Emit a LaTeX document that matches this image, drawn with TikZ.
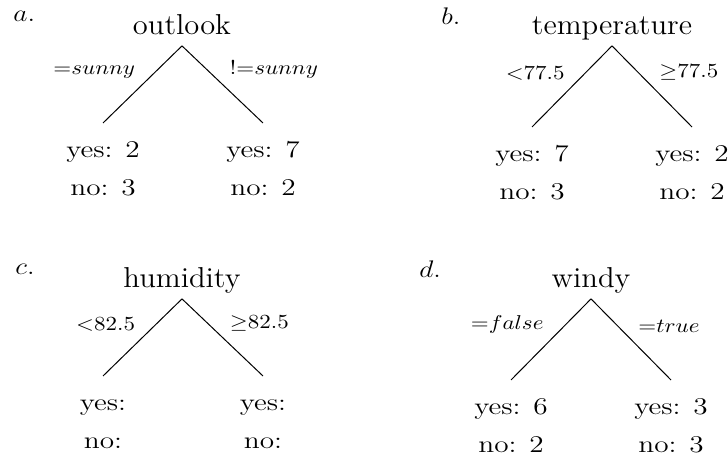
\documentclass[tikz,border=0pt]{standalone}
\usepackage{amsmath,amssymb}
\usetikzlibrary{positioning}
\tikzset{
attrnode/.style={font=\Large,anchor=base,xscale=1.06,text depth=0pt,inner xsep=2pt,inner ysep=5.25pt},
leafnode/.style={font=\large,align=center,anchor=north,xscale=1.22,inner ysep=7.2pt},
panelnode/.style={font=\large,anchor=base west,xscale=1.15,inner sep=0pt},
splitline/.style={line width=0.5pt},
splitlab/.style={font=\normalsize,xscale=1.15,inner sep=3pt}
}
\newcommand{\leafcount}[2]{\strut yes: #1\\[5pt]\strut no: #2}

\begin{document}
\begin{tikzpicture}[x=0.5pt,y=-0.5pt]
\useasboundingbox (0,0) rectangle (728,459);
% a. outlook
\node[panelnode] (labA) at (13,22) {$a.$};
\node[attrnode] (outlook) at (182,35) {outlook};
\node[leafnode] (sunny) at (103,123) {\leafcount{2}{3}};
\node[leafnode] (notsunny) at (263,123) {\leafcount{7}{2}};
\draw[splitline] (outlook.south) -- node[splitlab,above left] {${=}sunny$} (sunny.north);
\draw[splitline] (outlook.south) -- node[splitlab,above right] {$!{=}sunny$} (notsunny.north);
% b. temperature
\node[panelnode] (labB) at (441,25) {$b.$};
\node[attrnode] (temperature) at (612,35) {temperature};
\node[leafnode] (templow) at (532,127) {\leafcount{7}{3}};
\node[leafnode] (temphigh) at (692,127) {\leafcount{2}{2}};
\draw[splitline] (temperature.south) -- node[splitlab,above left] {${<}77.5$} (templow.north);
\draw[splitline] (temperature.south) -- node[splitlab,above right] {${\geq}77.5$} (temphigh.north);
% c. humidity
\node[panelnode] (labC) at (15,275) {$c.$};
\node[attrnode] (humidity) at (182,288) {humidity};
\node[leafnode] (humlow) at (103,376) {\strut yes:\\[5pt]\strut no:};
\node[leafnode] (humhigh) at (263,376) {\strut yes:\\[5pt]\strut no:};
\draw[splitline] (humidity.south) -- node[splitlab,above left] {${<}82.5$} (humlow.north);
\draw[splitline] (humidity.south) -- node[splitlab,above right] {${\geq}82.5$} (humhigh.north);
% d. windy
\node[panelnode] (labD) at (419,278) {$d.$};
\node[attrnode] (windy) at (591,288) {windy};
\node[leafnode] (calm) at (511,380) {\leafcount{6}{2}};
\node[leafnode] (gusty) at (671,380) {\leafcount{3}{3}};
\draw[splitline] (windy.south) -- node[splitlab,above left] {${=}false$} (calm.north);
\draw[splitline] (windy.south) -- node[splitlab,above right] {${=}true$} (gusty.north);
\end{tikzpicture}
\end{document}
